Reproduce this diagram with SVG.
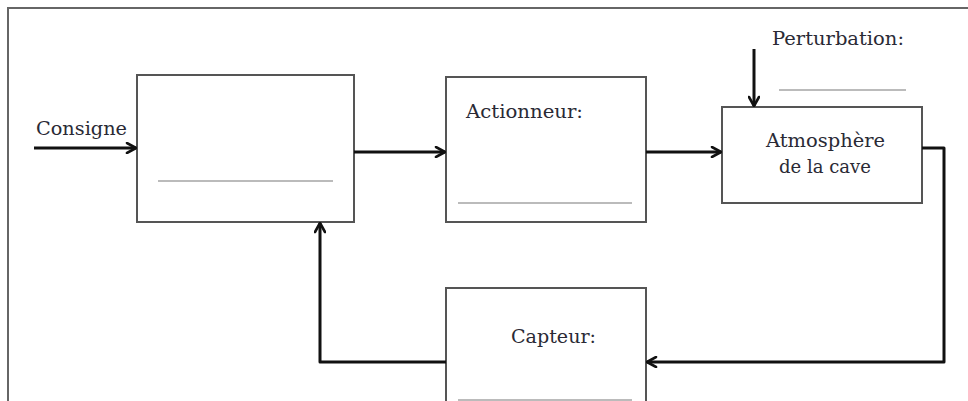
<svg xmlns="http://www.w3.org/2000/svg" width="968" height="401" viewBox="0 0 968 401">
<style>
.box{fill:#fff;stroke:#555;stroke-width:2}
.blank{stroke:#bbb;stroke-width:2}
.wire{fill:none;stroke:#111;stroke-width:3;stroke-linejoin:round}
.t{font-family:"DejaVu Serif","Liberation Serif",serif;font-size:18px;fill:#2a2a35}
</style>
<defs>
<marker id="ah" viewBox="0 0 12 12" refX="11" refY="6" markerWidth="12" markerHeight="12" markerUnits="userSpaceOnUse" orient="auto">
<path d="M2,1 L11,6 L2,11" fill="none" stroke="#111" stroke-width="2.6" stroke-linejoin="round" stroke-linecap="round"/>
</marker>
</defs>
<rect width="968" height="401" fill="#fff"/>
<path d="M8,401 V8 H968" fill="none" stroke="#666" stroke-width="2"/>
<g id="controller">
<rect class="box" x="137" y="75" width="217" height="147"/>
<line class="blank" x1="158" y1="181" x2="333" y2="181"/>
</g>
<g id="actionneur">
<rect class="box" x="446" y="77" width="200" height="145"/>
<text class="t" x="466" y="118" textLength="117" lengthAdjust="spacingAndGlyphs">Actionneur:</text>
<line class="blank" x1="458" y1="203" x2="632" y2="203"/>
</g>
<g id="atmosphere">
<rect class="box" x="722" y="107" width="200" height="96"/>
<text class="t" x="766" y="147" textLength="119" lengthAdjust="spacingAndGlyphs">Atmosphère</text>
<text class="t" x="779" y="173" textLength="92" lengthAdjust="spacingAndGlyphs">de la cave</text>
</g>
<g id="capteur">
<rect class="box" x="446" y="288" width="200" height="130"/>
<text class="t" x="511" y="343" textLength="85" lengthAdjust="spacingAndGlyphs">Capteur:</text>
<line class="blank" x1="458" y1="400" x2="632" y2="400"/>
</g>
<g id="perturbation">
<text class="t" x="772" y="45" textLength="132" lengthAdjust="spacingAndGlyphs">Perturbation:</text>
<line class="blank" x1="779" y1="90" x2="906" y2="90"/>
</g>
<g id="consigne">
<text class="t" x="36" y="135" textLength="91" lengthAdjust="spacingAndGlyphs">Consigne</text>
</g>
<g id="connectors">
<path class="wire" d="M34,148 H136" marker-end="url(#ah)"/>
<path class="wire" d="M354,152 H445" marker-end="url(#ah)"/>
<path class="wire" d="M646,152 H721" marker-end="url(#ah)"/>
<path class="wire" d="M754,49 V106" marker-end="url(#ah)"/>
<path class="wire" d="M922,148 H944 V362 H647" marker-end="url(#ah)"/>
<path class="wire" d="M446,362 H320 V223" marker-end="url(#ah)"/>
</g>
</svg>
